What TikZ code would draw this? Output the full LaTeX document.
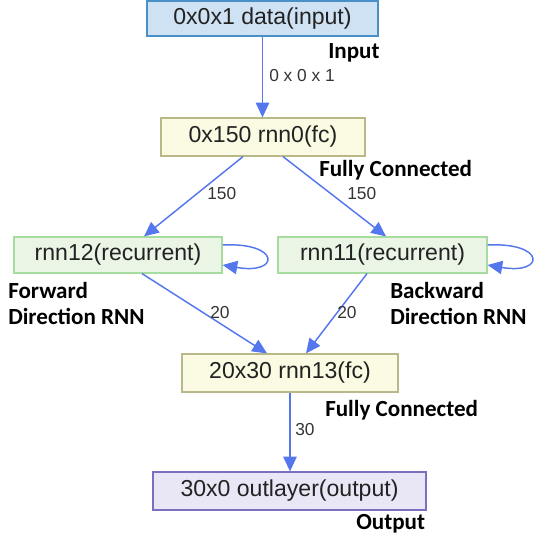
\documentclass[tikz,border=0pt]{standalone}
\usepackage{fontspec}
\setmainfont{Liberation Sans}
\newfontfamily\notefont{Carlito}
\usetikzlibrary{arrows.meta,calc}
\definecolor{nn-ink}{HTML}{222222}
\definecolor{nn-edge}{HTML}{5577EE}
\definecolor{nn-in}{HTML}{CFE2F3}
\definecolor{nn-inline}{HTML}{4A90C8}
\definecolor{nn-fc}{HTML}{FBFBE3}
\definecolor{nn-fcline}{HTML}{B8B888}
\definecolor{nn-rec}{HTML}{EAF5E6}
\definecolor{nn-recline}{HTML}{A6DCA0}
\definecolor{nn-out}{HTML}{E9E7F5}
\definecolor{nn-outline}{HTML}{7B6FC0}
\newdimen\px \px=0.75pt

\begin{document}
\begin{tikzpicture}[x=0.75pt,y=-0.75pt,
  layer/.style={draw,line width=0.9pt,text=nn-ink,inner sep=0pt,
    font=\fontsize{17.3}{20}\selectfont},
  edge/.style={nn-edge,line width=1.1pt,-{Triangle[length=11pt,width=10pt]}},
  elabel/.style={anchor=west,inner sep=0pt,text=nn-ink!92,font=\fontsize{13}{15}\selectfont},
  note/.style={anchor=west,align=left,inner sep=0pt,
    font=\notefont\bfseries\fontsize{17.3}{19.5}\selectfont}]
\useasboundingbox (0,0) rectangle (553,541);

% ============ layers ============
\node[layer,fill=nn-in,draw=nn-inline,minimum width=231\px,minimum height=35\px]
  (data) at (262.5,18.5) {0x0x1 data(input)};
\node[layer,fill=nn-fc,draw=nn-fcline,minimum width=204\px,minimum height=38\px]
  (rnn0) at (263,137) {0x150 rnn0(fc)};
\node[layer,fill=nn-rec,draw=nn-recline,minimum width=208\px,minimum height=36\px]
  (rnn12) at (118,255) {rnn12(recurrent)};
\node[layer,fill=nn-rec,draw=nn-recline,minimum width=209\px,minimum height=36\px]
  (rnn11) at (382.5,255) {rnn11(recurrent)};
\node[layer,fill=nn-fc,draw=nn-fcline,minimum width=216\px,minimum height=38\px]
  (rnn13) at (290,373) {20x30 rnn13(fc)};
\node[layer,fill=nn-out,draw=nn-outline,minimum width=273\px,minimum height=38\px]
  (outl) at (289.5,491) {30x0 outlayer(output)};

% ============ connections ============
\draw[edge] (data.south) -- (data.south |- rnn0.north);
\draw[edge] ($(rnn0.south)+(-20,0)$) -- ($(rnn12.north)+(26,0)$);
\draw[edge] ($(rnn0.south)+(20,0)$) -- ($(rnn11.north)+(3.5,0)$);
\draw[edge] ($(rnn12.south)+(24,0)$) -- ($(rnn13.north)+(-23,0)$);
\draw[edge] ($(rnn11.south)+(-15.5,0)$) -- ($(rnn13.north)+(16,0)$);
\draw[edge] (rnn13.south) -- (rnn13.south |- outl.north);

% recurrent self loops
\draw[edge] ($(rnn12.east)+(0,-10)$) .. controls +(58,-3) and +(58,10) .. ($(rnn12.east)+(0,10)$);
\draw[edge] ($(rnn11.east)+(0,-10)$) .. controls +(58,-3) and +(58,10) .. ($(rnn11.east)+(0,10)$);

% edge sizes
\node[elabel] (s0) at (269,76) {0 x 0 x 1};
\node[elabel] (s1) at (207,194) {150};
\node[elabel] (s2) at (347,194) {150};
\node[elabel] (s3) at (210,313) {20};
\node[elabel] (s4) at (337,313) {20};
\node[elabel] (s5) at (295,430) {30};

% annotations
\node[note] (nin) at (328,53) {Input};
\node[note] (nfc1) at (319,170) {Fully Connected};
\node[note] (nfw) at (8,303) {Forward\\Direction RNN};
\node[note] (nbw) at (390,303) {Backward\\Direction RNN};
\node[note] (nfc2) at (325,410) {Fully Connected};
\node[note] (nout) at (356,524) {Output};

\end{tikzpicture}
\end{document}
